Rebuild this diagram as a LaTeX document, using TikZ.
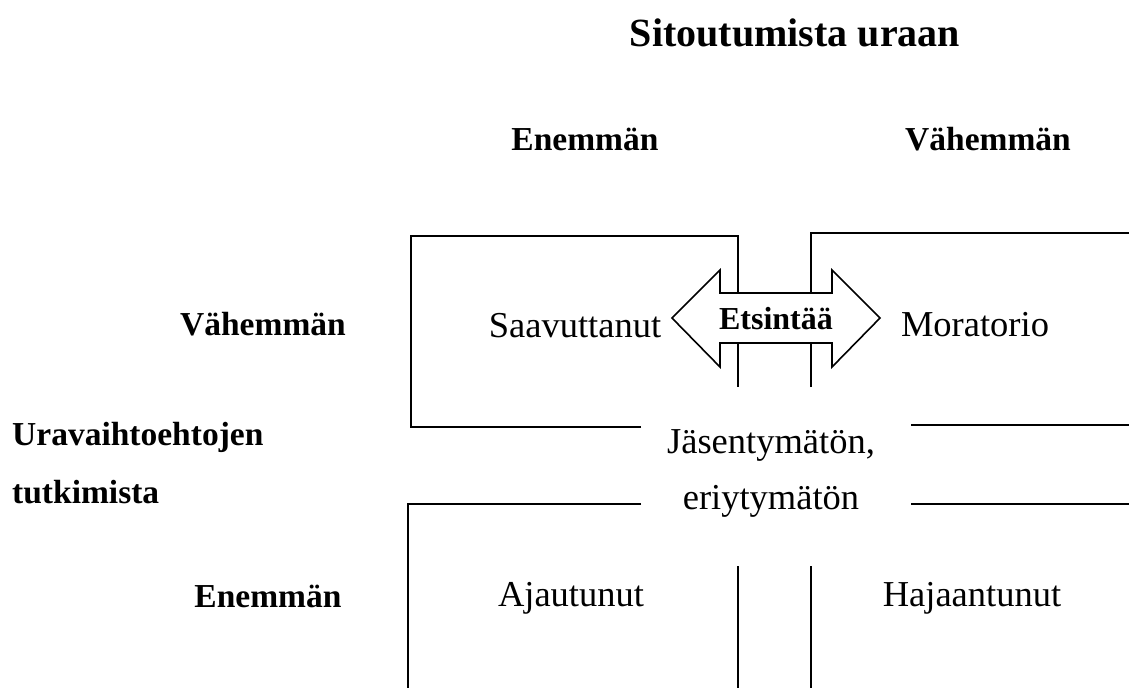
\documentclass[tikz,border=0pt]{standalone}
\usepackage{fontspec}
\setmainfont{Liberation Serif}
\begin{document}
\begin{tikzpicture}[x=1pt,y=-1pt,
  frame/.style={line width=1.6pt},
  body/.style={anchor=base,inner sep=0pt,font=\fontsize{36.5}{44}\selectfont},
  blab/.style={anchor=base,inner sep=0pt,font=\fontsize{33.5}{40}\selectfont\bfseries},
  ttl/.style={anchor=base,inner sep=0pt,font=\fontsize{40}{48}\selectfont\bfseries},
  bigarrow/.style={line width=1.6pt,fill=white,line join=miter}]
\path[use as bounding box] (0,0) rectangle (1129,688);
% title and headers
\node[ttl] (title) at (795,46) {Sitoutumista uraan};
\node[blab] (colA) at (585,150) {Enemmän};
\node[blab] (colB) at (988,150) {Vähemmän};
\node[blab] (rowA) at (263,335) {Vähemmän};
\node[blab,anchor=base west] (axis1) at (12,445) {Uravaihtoehtojen};
\node[blab,anchor=base west] (axis2) at (12,503) {tutkimista};
\node[blab] (rowB) at (268,607) {Enemmän};
% frames upper
\draw[frame] (641,427) -- (411,427) -- (411,236) -- (738,236) -- (738,387);
\draw[frame] (811,387) -- (811,233) -- (1129,233);
\draw[frame] (911,425) -- (1129,425);
% frames lower
\draw[frame] (641,504) -- (408,504) -- (408,688);
\draw[frame] (911,504) -- (1129,504);
\draw[frame] (738,566) -- (738,688);
\draw[frame] (811,566) -- (811,688);
% double arrow
\draw[bigarrow] (672,318) -- (720,270) -- (720,293) -- (832,293) -- (832,270)
  -- (880,318) -- (832,367) -- (832,343) -- (720,343) -- (720,367) -- cycle;
\node[blab,font=\fontsize{32}{38}\selectfont\bfseries] (etsinta) at (776,329) {Etsintää};
% cell texts
\node[body] (saav) at (575,337) {Saavuttanut};
\node[body] (mora) at (975,336) {Moratorio};
\node[body] (jas1) at (771,453) {Jäsentymätön,};
\node[body] (jas2) at (771,509) {eriytymätön};
\node[body] (ajau) at (571,606) {Ajautunut};
\node[body] (haja) at (972,606) {Hajaantunut};
\end{tikzpicture}
\end{document}
